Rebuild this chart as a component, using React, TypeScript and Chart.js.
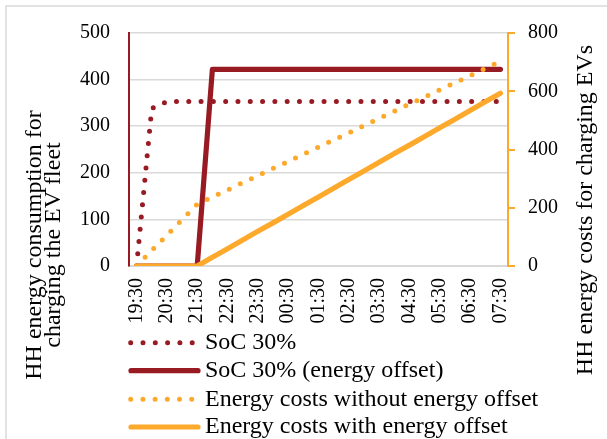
import React, { useEffect, useRef } from 'react';
import { Chart, registerables } from 'chart.js';

Chart.register(...registerables);

// Time axis (30-minute steps, hourly labels shown)
const times = [
  '19:30', '20:00', '20:30', '21:00', '21:30', '22:00', '22:30', '23:00', '23:30',
  '00:00', '00:30', '01:00', '01:30', '02:00', '02:30', '03:00', '03:30', '04:00',
  '04:30', '05:00', '05:30', '06:00', '06:30', '07:00', '07:30',
];

// Left axis: HH energy consumption
const soc30 = [
  0, 338, 353, 353, 353, 353, 353, 353, 353, 353, 353, 353, 353,
  353, 353, 353, 353, 353, 353, 353, 353, 353, 353, 353, 353,
];
const soc30Offset = [
  0, 0, 0, 0, 0, 422, 422, 422, 422, 422, 422, 422, 422,
  422, 422, 422, 422, 422, 422, 422, 422, 422, 422, 422, 422,
];

// Right axis: HH energy costs
const costsWithout = [
  0, 53, 106, 159, 212, 237, 261, 286, 310, 335, 359, 384, 408,
  433, 457, 482, 507, 531, 556, 580, 605, 629, 654, 678, 703,
];
const costsWith = [
  0, 0, 0, 0, 0, 30, 59, 89, 119, 148, 178, 208, 237,
  267, 297, 326, 356, 386, 415, 445, 475, 504, 534, 564, 593,
];

const leftTicks = [0, 100, 200, 300, 400, 500];
const rightTicks = [0, 200, 400, 600, 800];

const leftTitle = ['HH energy consumption for', 'charging the EV fleet'];
const rightTitle = 'HH energy costs for charging EVs';

const RED = '#981A22';
const ORANGE = '#FCA92C';
const GRID = '#D9D9D9';
const FONT = '"Liberation Serif", "Times New Roman", serif';

const decorPlugin = {
  id: 'decor',
  beforeDraw(chart: any) {
    const ctx = chart.ctx;
    ctx.save();
    ctx.fillStyle = '#fff';
    ctx.fillRect(0, 0, chart.width, chart.height);
    ctx.strokeStyle = GRID;
    ctx.lineWidth = 1.5;
    ctx.strokeRect(6, 6, chart.width + 50, chart.height + 50);
    ctx.restore();
  },
  afterDraw(chart: any) {
    const ctx = chart.ctx;
    ctx.save();
    ctx.fillStyle = '#000';
    ctx.font = `24px ${FONT}`;
    ctx.textAlign = 'center';
    ctx.textBaseline = 'alphabetic';
    // left axis title (two lines)
    ctx.save();
    ctx.translate(41, 245);
    ctx.rotate(-Math.PI / 2);
    ctx.fillText(leftTitle[0], 0, 0);
    ctx.restore();
    ctx.save();
    ctx.translate(59.5, 245);
    ctx.rotate(-Math.PI / 2);
    ctx.fillText(leftTitle[1], 0, 0);
    ctx.restore();
    // right axis title
    ctx.save();
    ctx.translate(592, 210);
    ctx.rotate(-Math.PI / 2);
    ctx.fillText(rightTitle, 0, 0);
    ctx.restore();

    // legend
    const rows = [342.7, 370.7, 399.3, 427];
    chart.data.datasets.forEach((ds: any, i: number) => {
      const y = rows[i];
      ctx.save();
      ctx.strokeStyle = ds.borderColor;
      ctx.lineWidth = ds.borderWidth;
      ctx.lineCap = 'round';
      ctx.setLineDash(ds.borderDash || []);
      ctx.beginPath();
      ctx.moveTo(ds.borderDash ? 130.7 : 131, y);
      ctx.lineTo(198, y);
      ctx.stroke();
      ctx.restore();
      ctx.textAlign = 'left';
      ctx.textBaseline = 'middle';
      ctx.fillStyle = '#000';
      ctx.fillText(ds.label, 205, y);
    });
    ctx.restore();
  },
};

export default function App() {
  const canvasRef = useRef<HTMLCanvasElement | null>(null);

  useEffect(() => {
    if (!canvasRef.current) return;
    const chart = new Chart(canvasRef.current, {
      type: 'line',
      data: {
        labels: times,
        datasets: [
          {
            label: 'SoC 30%',
            data: soc30,
            borderColor: RED,
            borderWidth: 5,
            borderDash: [0, 12.3],
            borderCapStyle: 'round',
            borderJoinStyle: 'round',
            pointRadius: 0,
            yAxisID: 'y',
            order: 4,
          },
          {
            label: 'SoC 30% (energy offset)',
            data: soc30Offset,
            borderColor: RED,
            borderWidth: 5.2,
            borderCapStyle: 'round',
            borderJoinStyle: 'round',
            pointRadius: 0,
            yAxisID: 'y',
            order: 3,
          },
          {
            label: 'Energy costs without energy offset',
            data: costsWithout,
            borderColor: ORANGE,
            borderWidth: 5,
            borderDash: [0, 12.2],
            borderCapStyle: 'round',
            borderJoinStyle: 'round',
            pointRadius: 0,
            yAxisID: 'y1',
            order: 2,
          },
          {
            label: 'Energy costs with energy offset',
            data: costsWith,
            borderColor: ORANGE,
            borderWidth: 5.2,
            borderCapStyle: 'round',
            borderJoinStyle: 'round',
            pointRadius: 0,
            yAxisID: 'y1',
            order: 1,
          },
        ] as any,
      },
      options: {
        responsive: false,
        animation: false,
        devicePixelRatio: 1,
        layout: { padding: { top: 33, left: 0, right: 0, bottom: 0 } },
        plugins: {
          legend: { display: false },
          tooltip: { enabled: false },
          title: { display: false },
        },
        scales: {
          x: {
            type: 'category',
            offset: true,
            grid: { display: false, drawTicks: false },
            border: { display: true, color: GRID, width: 2 },
            ticks: {
              autoSkip: false,
              minRotation: 90,
              maxRotation: 90,
              padding: 12,
              color: '#000',
              font: { family: FONT, size: 20 },
              callback: (_v: any, i: number) => (i % 2 === 0 ? times[i] : ''),
            },
            afterFit: (s: any) => {
              s.height = 173;
            },
          },
          y: {
            position: 'left',
            min: leftTicks[0],
            max: leftTicks[leftTicks.length - 1],
            grid: { color: GRID, lineWidth: 1.5, drawTicks: false },
            border: { display: true, color: RED, width: 2 },
            ticks: {
              stepSize: leftTicks[1] - leftTicks[0],
              padding: 19,
              color: '#000',
              font: { family: FONT, size: 20 },
            },
            afterFit: (s: any) => {
              s.width = 129;
            },
          },
          y1: {
            position: 'right',
            min: rightTicks[0],
            max: rightTicks[rightTicks.length - 1],
            grid: {
              drawOnChartArea: false,
              color: ORANGE,
              lineWidth: 2,
              drawTicks: true,
              tickLength: 7,
            },
            border: { display: true, color: ORANGE, width: 2 },
            ticks: {
              stepSize: rightTicks[1] - rightTicks[0],
              padding: 13,
              color: '#000',
              font: { family: FONT, size: 20 },
            },
            afterFit: (s: any) => {
              s.width = 99;
            },
          },
        },
      } as any,
      plugins: [decorPlugin],
    });
    return () => chart.destroy();
  }, []);

  return (
    <div style={{ position: 'absolute', left: 0, top: 0, width: 607, height: 439, overflow: 'hidden' }}>
      <canvas ref={canvasRef} width={607} height={439} style={{ display: 'block', width: 607, height: 439 }} />
    </div>
  );
}
